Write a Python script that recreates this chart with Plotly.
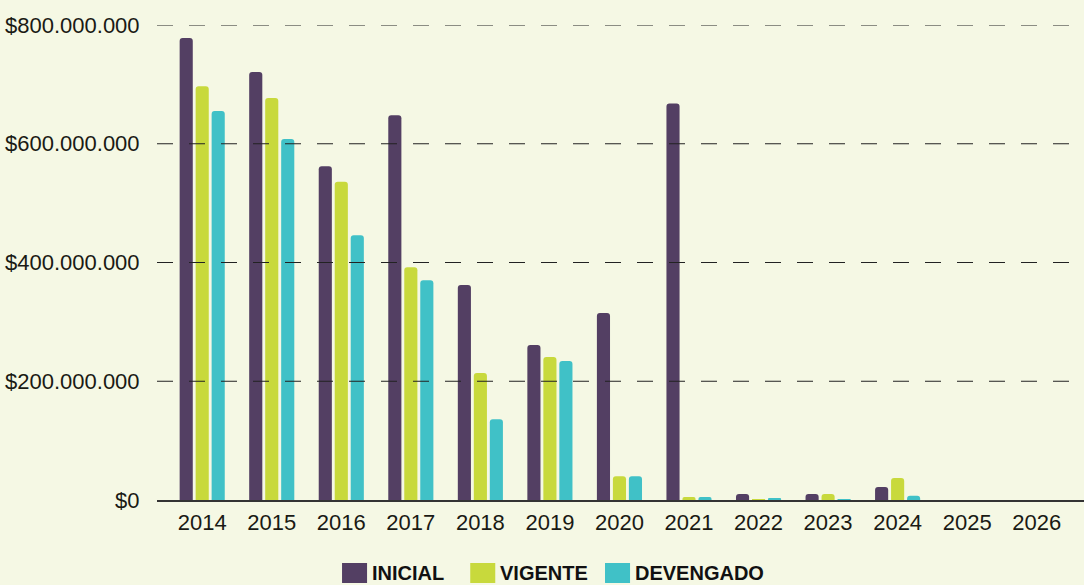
import plotly.graph_objects as go

years = ["2014", "2015", "2016", "2017", "2018", "2019", "2020",
         "2021", "2022", "2023", "2024", "2025", "2026"]
inicial = [778e6, 721e6, 562e6, 648e6, 362e6, 261e6, 315e6,
           668e6, 10e6, 10e6, 22e6, 0, 0]
vigente = [697e6, 677e6, 536e6, 392e6, 214e6, 241e6, 40e6,
           5e6, 1.5e6, 10e6, 37e6, 0, 0]
devengado = [655e6, 608e6, 446e6, 370e6, 136e6, 234e6, 40e6,
             5e6, 2e6, 0.3e6, 7e6, 0, 0]
tick_vals = [0, 200e6, 400e6, 600e6, 800e6]
tick_text = ["$0", "$200.000.000", "$400.000.000", "$600.000.000", "$800.000.000"]

series_names = ["INICIAL", "VIGENTE", "DEVENGADO"]
series_values = [inicial, vigente, devengado]
series_colors = ["#533f63", "#c8d93c", "#40c1c7"]

BG = "#f5f8e4"
FONT = "Liberation Sans, Arial, sans-serif"
TXT = "#1a1a14"

fig = go.Figure()
for name, vals, col in zip(series_names, series_values, series_colors):
    fig.add_trace(go.Bar(x=years, y=vals, name=name, showlegend=False,
                         marker=dict(color=col, cornerradius=3, line=dict(width=0))))

shapes = []
for v in tick_vals[1:]:
    shapes.append(dict(type="line", xref="paper", x0=0, x1=1, yref="y", y0=v, y1=v,
                       layer="above", line=dict(color="#222222", width=1, dash="16px,16px")))

# custom legend (large swatches) below the plot, in paper coordinates
legend_swatch_x = [0.1996, 0.3379, 0.4833]
sw_w = 0.027
annotations = []
for name, col, lx in zip(series_names, series_colors, legend_swatch_x):
    shapes.append(dict(type="rect", xref="paper", yref="paper",
                       x0=lx, x1=lx + sw_w, y0=-0.1747, y1=-0.1326,
                       fillcolor=col, line=dict(width=0), layer="above"))
    annotations.append(dict(xref="paper", yref="paper", x=lx + sw_w + 0.003, y=-0.1537,
                            xanchor="left", yanchor="middle", showarrow=False,
                            text="<b>" + name + "</b>",
                            font=dict(size=20, family=FONT, color="#111111")))

fig.update_layout(
    width=1084, height=585,
    paper_bgcolor=BG, plot_bgcolor=BG,
    margin=dict(l=157, r=0, t=25, b=85, autoexpand=False),
    barmode="group", bargap=0.31, bargroupgap=0.18,
    shapes=shapes, annotations=annotations,
    showlegend=False,
    font=dict(family=FONT, color=TXT),
    xaxis=dict(type="category", range=[-0.65, 12.68], showgrid=False,
               showline=True, linecolor="#333333", linewidth=1.5,
               ticks="outside", ticklen=2, tickcolor="rgba(0,0,0,0)",
               automargin=False,
               tickfont=dict(size=22, family=FONT, color=TXT)),
    yaxis=dict(range=[0, 800e6], tickvals=tick_vals, ticktext=tick_text,
               showgrid=False, zeroline=False, showline=False,
               ticks="outside", ticklen=12, tickcolor="rgba(0,0,0,0)",
               automargin=False,
               tickfont=dict(size=22, family=FONT, color=TXT)),
)

fig.write_html(
    "out.html",
    config={"displayModeBar": False},
    post_script="document.body.style.margin='0';document.body.style.background='" + BG + "';",
)
